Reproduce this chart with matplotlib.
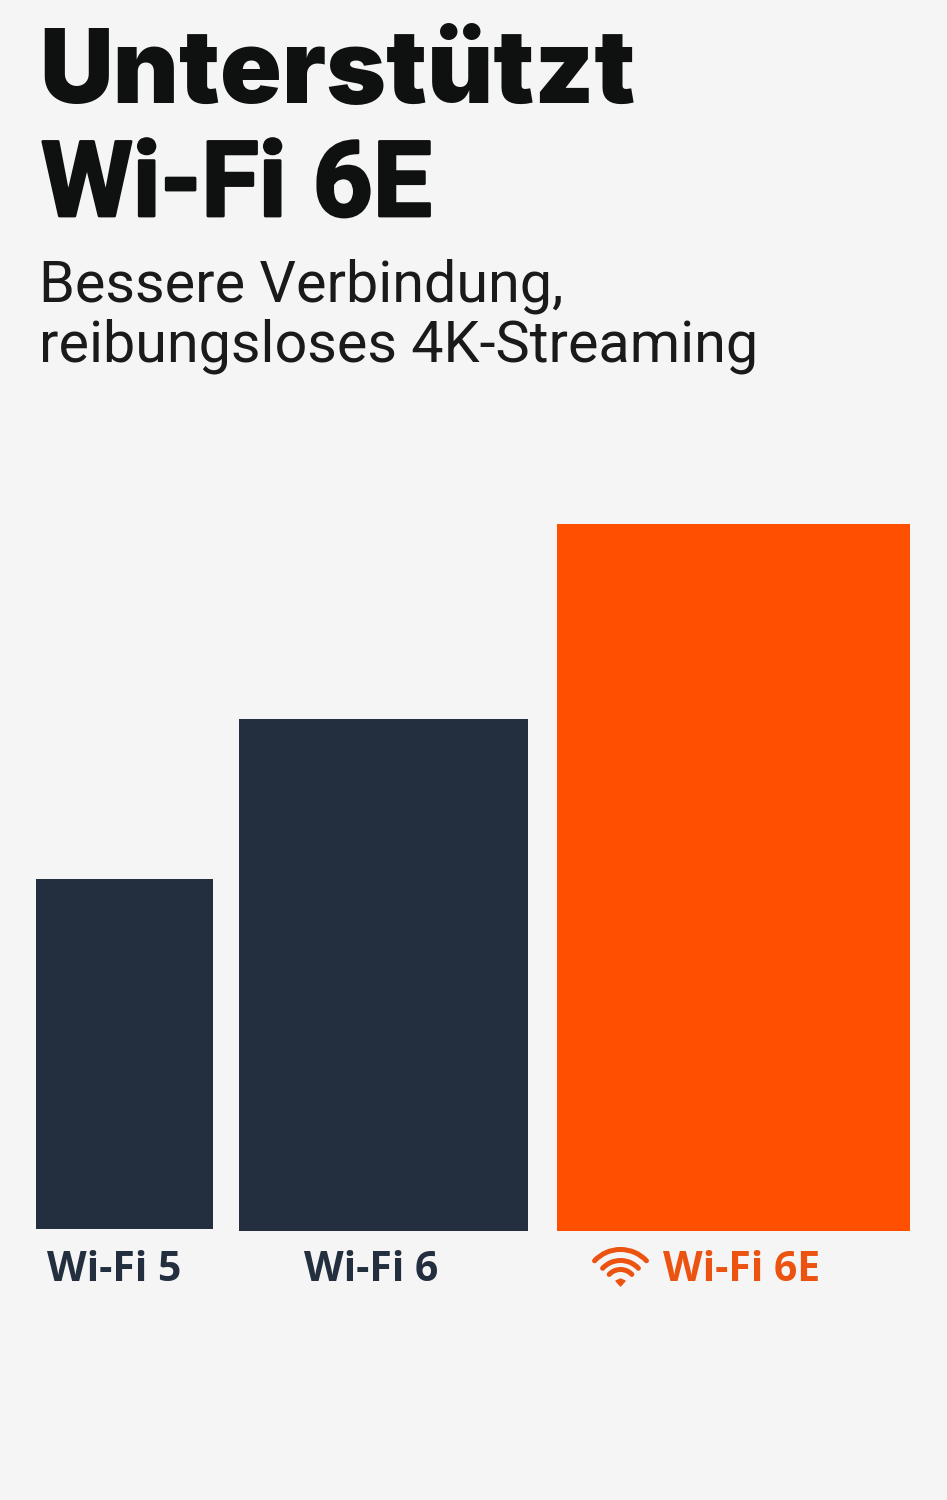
import matplotlib
matplotlib.use('Agg')
import matplotlib.pyplot as plt
import matplotlib.patheffects as pe
from matplotlib.patches import Arc, Polygon

# bar data
categories = ['Wi-Fi 5', 'Wi-Fi 6', 'Wi-Fi 6E']
values = [350, 512, 707]
lefts = [36, 239, 557]
widths = [176.5, 288.5, 353]
bottoms = [1229, 1231, 1231]
colors = ['#232f3e', '#232f3e', '#ff4f00']
label_colors = ['#232f3e', '#232f3e', '#ec5210']

W, H = 947, 1500
fig = plt.figure(figsize=(W / 100, H / 100), dpi=100, facecolor='white')
ax = fig.add_axes([0, 0, 1, 1])
ax.set_xlim(0, W)
ax.set_ylim(H, 0)
ax.axis('off')

# light card behind everything
ax.add_patch(plt.Rectangle((0, 0), W, H, facecolor='#f5f5f5', edgecolor='none'))

# headline, no single font has the right proportions for both lines
ax.text(39, 103, 'Unterstützt', fontsize=73.5, family='Inter', fontweight='black',
        color='#0f1111', va='baseline')
ax.text(41, 216, 'Wi-Fi 6E', fontsize=75.5, family='Roboto', fontweight='bold',
        color='#0f1111', va='baseline',
        path_effects=[pe.withStroke(linewidth=2, foreground='#0f1111')])

# subtitle
ax.text(39, 301, 'Bessere Verbindung,', fontsize=41.4, family='Roboto',
        color='#1a1a1a', va='baseline')
ax.text(39, 361, 'reibungsloses 4K-Streaming', fontsize=41.4, family='Roboto',
        color='#1a1a1a', va='baseline')

# bars
tops = [b - v for b, v in zip(bottoms, values)]
ax.bar(lefts, values, widths, bottom=tops, align='edge', color=colors)

# labels under bars
label_x = [47, 304, 663]
for x, name, c in zip(label_x, categories, label_colors):
    ax.text(x, 1281, name, fontsize=29.5, family='Open Sans', fontweight='bold',
            color=c, va='baseline')

# wifi icon
cx, cy = 620.5, 1285
for d in [31, 49, 71]:
    arc = Arc((cx, cy), d, d, theta1=223, theta2=317, color='#ec5210', lw=3.6)
    arc.set_capstyle('round')
    ax.add_patch(arc)
ax.add_patch(Polygon([(cx - 4.5, cy - 4), (cx, cy - 6), (cx + 4.5, cy - 4), (cx, cy + 1)],
                     closed=True, facecolor='#ec5210', edgecolor='#ec5210', lw=1, joinstyle='round'))

fig.savefig('out.png', dpi=100)
